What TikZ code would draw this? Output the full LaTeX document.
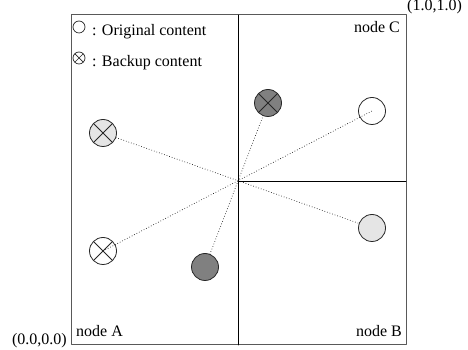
\documentclass[tikz,border=0pt]{standalone}
\usepackage{fontspec}
\setmainfont{Liberation Serif}
\usetikzlibrary{backgrounds}
\definecolor{lightpeer}{gray}{.9}
\definecolor{darkpeer}{gray}{.5}
\begin{document}
\begin{tikzpicture}[x=1pt,y=1pt,line join=round,line cap=round,font=\fontsize{16}{19}\selectfont,
	peer/.style={circle,draw=black!85,line width=.8pt,minimum size=27pt,inner sep=0pt},
	backup/.style={peer,path picture={\draw[black!85,line width=.8pt]
		(path picture bounding box.north west) -- (path picture bounding box.south east)
		(path picture bounding box.north east) -- (path picture bounding box.south west);}},
	link/.style={dotted,line width=.7pt,black!85},
	lbl/.style={inner sep=0pt}]
		\def\w{335}
		\def\h{330}
		\def\mx{167}
		\def\my{164}
		\useasboundingbox (-71,-5) rectangle (397,345);
		% frame and areas
		\draw[black!65,line width=1pt] (0,0) rectangle (\w,\h);
		\draw[black,line width=.8pt] (\mx,0) -- (\mx,\h) (\mx,\my) -- (\w,\my);
		% legend
		\node[circle,draw=black!85,line width=.7pt,minimum size=12pt,inner sep=0pt] (keyo) at (8,318) {};
		\node[circle,draw=black!85,line width=.7pt,minimum size=12pt,inner sep=0pt,path picture={\draw[black!85,line width=.7pt]
			(path picture bounding box.north west) -- (path picture bounding box.south east)
			(path picture bounding box.north east) -- (path picture bounding box.south west);}] (keyb) at (8,287) {};
		\node[lbl,anchor=base west] (keyot) at (21,309) {: Original content};
		\node[lbl,anchor=base west] (keybt) at (21,278) {: Backup content};
		% contents
		\node[backup,fill=lightpeer] (lgx) at (32,212) {};
		\node[backup] (wx) at (32,94) {};
		\node[peer,fill=darkpeer] (dg) at (134,78) {};
		\node[backup,fill=darkpeer] (dgx) at (197,242) {};
		\node[peer] (w) at (301,234) {};
		\node[peer,fill=lightpeer] (lg) at (301,117) {};
		\begin{scope}[on background layer]
			\draw[link] (wx.center) -- (w.center);
			\draw[link] (lgx.center) -- (lg.center);
			\draw[link] (dg.center) -- (dgx.center);
		\end{scope}
		% labels
		\node[lbl,anchor=base west] (na) at (5,8) {node A};
		\node[lbl,anchor=base east] (nb) at (331,8) {node B};
		\node[lbl,anchor=base east] (nc) at (329,312) {node C};
		\node[lbl,anchor=base east] (lo) at (-4,0) {(0.0,0.0)};
		\node[lbl,anchor=base west] (hi) at (336,334) {(1.0,1.0)};
\end{tikzpicture}
\end{document}
